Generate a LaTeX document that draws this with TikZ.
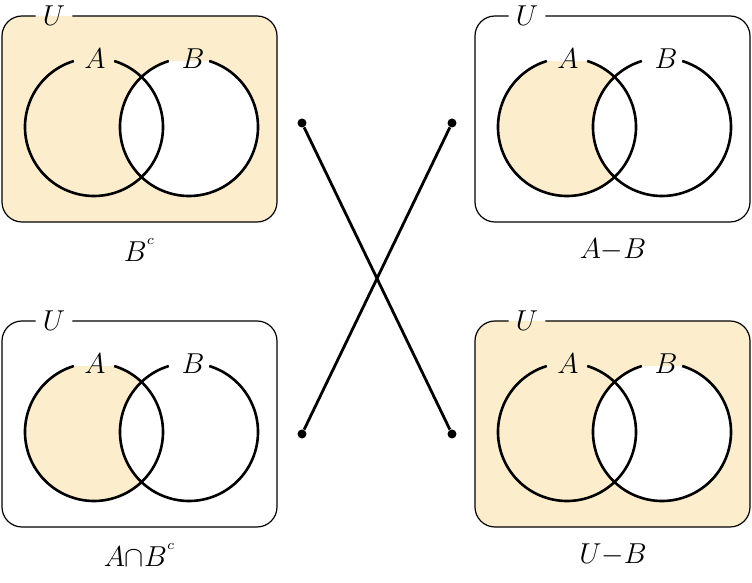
\documentclass[tikz,border=0pt]{standalone}
\usepackage{amsmath}
\usepackage{amssymb}
\usepackage{xcolor}
\definecolor{venn}{RGB}{252,238,204}
\tikzset{frame/.style={line width=0.6pt, rounded corners=10},
 ring/.style={line width=1.3pt},
 link/.style={line width=1.4pt},
 dot/.style={circle, fill=black, inner sep=0pt, minimum size=4.5pt},
 setname/.style={inner sep=1pt},
 }

\begin{document}
\begin{tikzpicture}[x=0.5pt, y=0.5pt, font=\Large]
        \useasboundingbox (0, 0) rectangle (752, 583);

        % the four panels
        \foreach \px/\py/\bg/\txt [count=\i] in {2/361/venn/{$B^{{}^c}$}, 475/361/white/{$A{-}B$}, 2/56/white/{$A{\cap}B^{{}^c}$}, 475/56/venn/{$U{-}B$}} {
            \begin{scope}[shift={(\px, \py)}]
                \fill[\bg, rounded corners=10] (0, 0) rectangle (275, 206);
                \node[inner xsep=3.5pt, inner ysep=1pt] (U\i) at (52, 206) {$U$};
                \draw[frame] (U\i.east) -- (275, 206) -- (275, 0) -- (0, 0) -- (0, 206) -- (U\i.west);
                \coordinate (a\i) at (92, 95);
                \coordinate (b\i) at (187, 95);
                \fill[venn] (a\i) ++(73:69) arc[start angle=73, end angle=-253, radius=69];
                \fill[white] (b\i) ++(73:69) arc[start angle=73, end angle=-253, radius=69];
                \draw[ring] (a\i) ++(73:69) arc[start angle=73, end angle=-253, radius=69];
                \draw[ring] (b\i) ++(73:69) arc[start angle=73, end angle=-253, radius=69];
                \node[setname] (A\i) at (93, 163) {$A$};
                \node[setname] (B\i) at (191, 163) {$B$};
                \node (t\i) at (138, -28) {\txt};
            \end{scope}
        }

        % crossing links
        \node[dot] (l1) at (302, 460) {};
        \node[dot] (r1) at (452, 460) {};
        \node[dot] (l2) at (302, 149) {};
        \node[dot] (r2) at (452, 149) {};
        \draw[link] (l1) -- (r2);
        \draw[link] (r1) -- (l2);
    \end{tikzpicture}
\end{document}
